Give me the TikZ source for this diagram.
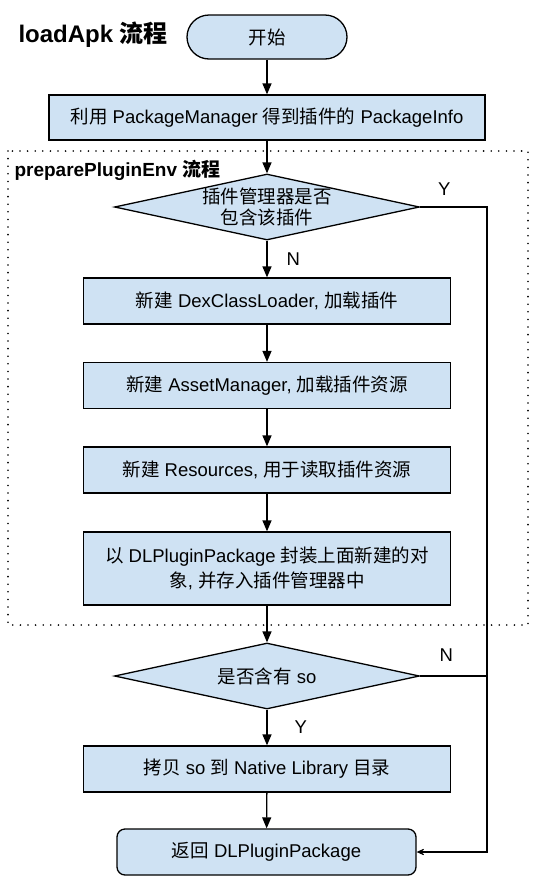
\documentclass[tikz,border=0pt]{standalone}
\usepackage{fontspec}
\setmainfont{Liberation Sans}
\newfontfamily\cjk{Noto Sans CJK SC}
\newcommand{\zh}[1]{{\cjk #1}}
\usetikzlibrary{shapes.geometric,arrows.meta}
\definecolor{boxblue}{HTML}{CFE2F3}

\begin{document}
\begin{tikzpicture}[x=1pt, y=-1pt,
        every node/.style={font=\fontsize{18.5}{22}\selectfont},
        proc/.style={draw, line width=1.3pt, fill=boxblue, minimum width=367pt,
            minimum height=46pt, inner sep=0pt, align=center},
        widebox/.style={proc, minimum width=436pt, minimum height=45pt},
        startbox/.style={proc, rounded corners=22pt, minimum width=160pt, minimum height=44pt},
        endbox/.style={proc, rounded corners=8pt, minimum width=299pt},
        decision/.style={diamond, draw, line width=1.3pt, fill=boxblue,
            minimum width=305pt, minimum height=66pt, inner sep=0pt},
        yn/.style={inner sep=0pt},
        arr/.style={-{Triangle[length=11pt,width=9pt]}, line width=1.3pt},
        back/.style={-{Stealth[length=12pt,width=11pt,inset=8pt]}, line width=1.3pt},
        frame/.style={line width=1.8pt, line cap=round, dash pattern=on 0pt off 7.6pt}]
        \useasboundingbox (0,0) rectangle (536,892);

        % Tiêu đề
        \node[anchor=west, font=\bfseries\fontsize{24}{28}\selectfont] (title) at (15,35) {loadApk \zh{流程}};

        \node[startbox] (start) at (267,37) {\zh{开始}};
        \node[widebox] (pm) at (267,117.5) {\zh{利用} PackageManager \zh{得到插件的} PackageInfo};

        % Khung preparePluginEnv
        \draw[frame] (8,151) rectangle (528,625);
        \node[anchor=west, font=\bfseries\fontsize{19}{23}\selectfont] (subtitle) at (11,170) {preparePluginEnv \zh{流程}};

        \node[decision] (d1) at (267,207) {};
        \node[align=center, font=\fontsize{18.5}{21}\selectfont] (d1t) at (d1) {\zh{插件管理器是否}\\\zh{包含该插件}};
        \node[proc] (dex) at (267,301) {\zh{新建} DexClassLoader, \zh{加载插件}};
        \node[proc] (asset) at (267,385.5) {\zh{新建} AssetManager, \zh{加载插件资源}};
        \node[proc] (res) at (267,470) {\zh{新建} Resources, \zh{用于读取插件资源}};
        \node[proc, minimum height=73pt, font=\fontsize{18.5}{25}\selectfont] (pkg) at (267,568.5)
            {\zh{以} DLPluginPackage \zh{封装上面新建的对}\\\zh{象}, \zh{并存入插件管理器中}};

        % Phần so
        \node[decision] (d2) at (267,676) {};
        \node (d2t) at (d2) {\zh{是否含有} so};
        \node[proc] (copy) at (267,769) {\zh{拷贝} so \zh{到} Native Library \zh{目录}};
        \node[endbox] (ret) at (266.5,852) {\zh{返回} DLPluginPackage};

        \coordinate (rail) at (487,0);

        % Mũi tên
        \draw[arr] (start) -- (pm);
        \draw[arr] (pm) -- (d1);
        \draw[arr] (d1) -- node[yn, right=19pt] (n1) {N} (dex);
        \draw[arr] (dex) -- (asset);
        \draw[arr] (asset) -- (res);
        \draw[arr] (res) -- (pkg);
        \draw[arr] (pkg) -- (d2);
        \draw[arr] (d2) -- node[yn, right=27pt] (y2) {Y} (copy);
        \draw[arr] (copy) -- (ret);
        \draw[back] (d1.east) -- node[yn, pos=0.36, above=11pt] (y1) {Y} (d1.east -| rail) |- (ret.east);
        \draw[line width=1.3pt] (d2.east) -- node[yn, pos=0.39, above=14pt] (n2) {N} (d2.east -| rail);
    \end{tikzpicture}
\end{document}
